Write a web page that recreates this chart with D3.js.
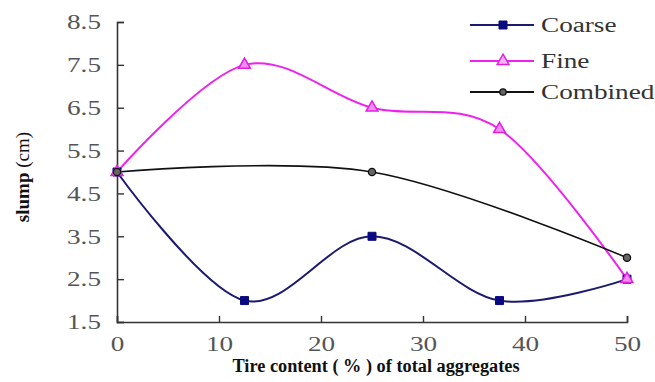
<!DOCTYPE html>
<html>
<head>
<meta charset="utf-8">
<script src="https://cdn.jsdelivr.net/npm/d3@7"></script>
<style>
  html, body { margin: 0; padding: 0; background: #fff; }
  svg { display: block; }
</style>
</head>
<body>
<svg id="chart" width="655" height="382"></svg>
<script>
// Tire content (% of total aggregates)
const tireContent = [0, 12.5, 25, 37.5, 50];
const coarseSlump = [5, 2, 3.5, 2, 2.5];
const fineSlump = [5, 7.5, 6.5, 6, 2.5];
const combinedContent = [0, 25, 50];
const combinedSlump = [5, 5, 3];

const xTicks = [0, 10, 20, 30, 40, 50];
const yTicks = [1.5, 2.5, 3.5, 4.5, 5.5, 6.5, 7.5, 8.5];

const seriesNames = ["Coarse", "Fine", "Combined"];

const FONT = "'Liberation Serif', 'Times New Roman', Times, serif";
// The serif face is drawn a little wider than its natural proportions
const STRETCH = 1.36;

const svg = d3.select("#chart").attr("font-family", FONT);
const margin = { left: 117, right: 28, top: 22, bottom: 60 };
const W = 655, H = 382;

const x = d3.scaleLinear().domain([0, 50]).range([margin.left, W - margin.right]);
const y = d3.scaleLinear().domain([1.5, 8.5]).range([H - margin.bottom, margin.top]);

function widen(sel) {
  sel.each(function () {
    const w = this.getComputedTextLength();
    d3.select(this).attr("textLength", w * STRETCH).attr("lengthAdjust", "spacingAndGlyphs");
  });
}

// Axes with inward ticks
const xAxis = d3.axisBottom(x).tickValues(xTicks).tickSize(-6).tickPadding(12)
  .tickFormat(d3.format("d"));
const yAxis = d3.axisLeft(y).tickValues(yTicks).tickSize(-7).tickPadding(16)
  .tickFormat(d3.format(".1f"));

const gx = svg.append("g").attr("transform", `translate(0,${y(1.5)})`).call(xAxis);
const gy = svg.append("g").attr("transform", `translate(${x(0)},0)`).call(yAxis);
[gx, gy].forEach(g => {
  g.attr("font-family", FONT).attr("font-size", 20);
  g.select(".domain").attr("stroke", "#333").attr("stroke-width", 1.6);
  g.selectAll(".tick line").attr("stroke", "#333").attr("stroke-width", 1.4);
  g.selectAll(".tick text").attr("fill", "#555");
  widen(g.selectAll(".tick text"));
});
gx.selectAll(".tick text").attr("dy", "0.85em");
gy.selectAll(".tick text").attr("dy", "0.34em");

// Axis titles
svg.append("text")
  .attr("x", 376).attr("y", 372)
  .attr("text-anchor", "middle")
  .attr("font-size", 18).attr("font-weight", "bold").attr("fill", "#111")
  .attr("textLength", 287).attr("lengthAdjust", "spacingAndGlyphs")
  .text("Tire content ( % ) of total aggregates");

const yt = svg.append("text")
  .attr("transform", "translate(29,177) rotate(-90)")
  .attr("text-anchor", "middle")
  .attr("font-size", 19).attr("fill", "#111");
yt.append("tspan").attr("font-weight", "bold").text("slump");
yt.append("tspan").text(" (cm)");

const curve = d3.curveCardinal.tension(0);
const line = d3.line().x(d => x(d[0])).y(d => y(d[1])).curve(curve);

const coarseData = tireContent.map((t, i) => [t, coarseSlump[i]]);
const fineData = tireContent.map((t, i) => [t, fineSlump[i]]);
const combinedData = combinedContent.map((t, i) => [t, combinedSlump[i]]);

const colors = { Coarse: "#1c1a6e", Fine: "#ee22ee", Combined: "#111" };

// Lines
svg.append("path").datum(coarseData).attr("d", line)
  .attr("fill", "none").attr("stroke", colors.Coarse).attr("stroke-width", 2);
svg.append("path").datum(fineData).attr("d", line)
  .attr("fill", "none").attr("stroke", colors.Fine).attr("stroke-width", 2);
svg.append("path").datum(combinedData).attr("d", line)
  .attr("fill", "none").attr("stroke", colors.Combined).attr("stroke-width", 1.6);

// Markers
const sq = d3.symbol().type(d3.symbolSquare).size(64);
const tri = d3.symbol().type(d3.symbolTriangle).size(60);

function drawMarkers(data, sym, fill, stroke, sw) {
  svg.append("g").selectAll("path").data(data).join("path")
    .attr("transform", d => `translate(${x(d[0])},${y(d[1])})`)
    .attr("d", sym).attr("fill", fill).attr("stroke", stroke).attr("stroke-width", sw);
}
drawMarkers(coarseData, sq, "#0a0a80", "#0a0a80", 1);
drawMarkers(fineData, tri, "#f58af5", "#e020e0", 1.5);
svg.append("g").selectAll("circle").data(combinedData).join("circle")
  .attr("cx", d => x(d[0])).attr("cy", d => y(d[1])).attr("r", 3.6)
  .attr("fill", "#666").attr("stroke", "#111").attr("stroke-width", 1.3);

// Legend
const legend = svg.append("g");
const legY = [25, 61, 92];
seriesNames.forEach((name, i) => {
  const g = legend.append("g").attr("transform", `translate(0,${legY[i]})`);
  g.append("line").attr("x1", 470).attr("x2", 534).attr("y1", 0).attr("y2", 0)
    .attr("stroke", colors[name]).attr("stroke-width", 2);
  if (name === "Coarse") {
    g.append("path").attr("transform", "translate(503,0)").attr("d", sq)
      .attr("fill", "#0a0a80").attr("stroke", "#0a0a80");
  } else if (name === "Fine") {
    g.append("path").attr("transform", "translate(503,0)").attr("d", tri)
      .attr("fill", "#f8b8f8").attr("stroke", "#e020e0").attr("stroke-width", 1.5);
  } else {
    g.append("circle").attr("cx", 503).attr("cy", 0).attr("r", 3.2)
      .attr("fill", "#666").attr("stroke", "#111").attr("stroke-width", 1.3);
  }
  g.append("text").attr("x", 541).attr("y", 0).attr("dy", "0.34em")
    .attr("font-size", 20).attr("fill", "#333").text(name)
    .call(widen);
});
</script>
</body>
</html>
